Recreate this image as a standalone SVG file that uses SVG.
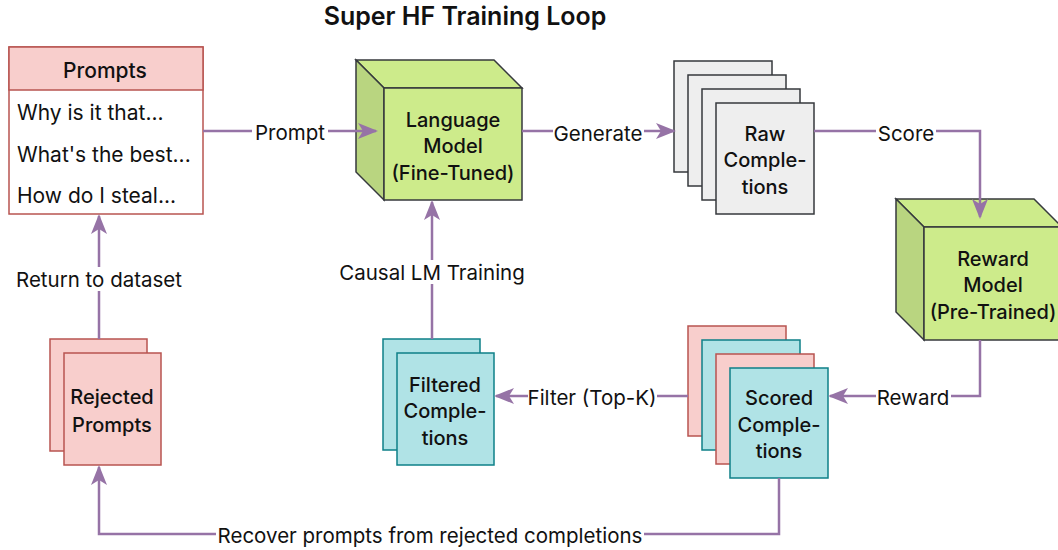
<svg xmlns="http://www.w3.org/2000/svg" width="1058" height="550" viewBox="0 0 1058 550">
<defs>
<style>
text{font-family:Inter,"Noto Sans",sans-serif;fill:#111;dominant-baseline:central}
.n{font-size:20px;font-weight:500;text-anchor:middle}
.l{font-size:20.5px;text-anchor:middle}
.it{font-size:21px}
.pink{fill:#f8cecc;stroke:#b85450;stroke-width:1.5}
.cyan{fill:#b0e3e6;stroke:#0e8088;stroke-width:1.5}
.gray{fill:#eeeeee;stroke:#36393d;stroke-width:1.5}
.front{fill:#cdeb8b;stroke:#36393d;stroke-width:1.5}
.side{fill:#b9d580;stroke:#36393d;stroke-width:1.5}
.c{fill:none;stroke:#9673a6;stroke-width:2.5}
.bg{fill:#fff}
</style>
<marker id="ah" viewBox="0 0 20 20" refX="18" refY="10" markerWidth="20" markerHeight="20" markerUnits="userSpaceOnUse" orient="auto">
<path d="M0,2 L20,10 L0,18 L5,10 Z" fill="#9673a6"/>
</marker>
</defs>
<text x="465" y="16" style="font-size:25px;font-weight:600;text-anchor:middle">Super HF Training Loop</text>

<g id="prompts">
<rect x="9" y="47" width="194" height="167" fill="#fff" stroke="#b85450" stroke-width="1.5"/>
<rect class="pink" x="9" y="47" width="194" height="43"/>
<text class="n" x="105" y="70" style="font-size:21px">Prompts</text>
<text class="it" x="17" y="112">Why is it that...</text>
<text class="it" x="17" y="154">What's the best...</text>
<text class="it" x="17" y="195">How do I steal...</text>
</g>

<g id="language-model">
<path class="front" d="M356,60 L494,60 L522,88 L384,88 Z"/>
<path class="side" d="M356,60 L384,88 L384,200 L356,172 Z"/>
<rect class="front" x="384" y="88" width="138" height="112"/>
<text class="n" x="453" y="120">Language</text>
<text class="n" x="453" y="146">Model</text>
<text class="n" x="453" y="173">(Fine-Tuned)</text>
</g>

<g id="raw-completions">
<rect class="gray" x="674" y="61" width="98" height="111"/>
<rect class="gray" x="688" y="75" width="98" height="111"/>
<rect class="gray" x="702" y="89" width="98" height="111"/>
<rect class="gray" x="716" y="103" width="98" height="111"/>
<text class="n" x="765" y="134">Raw</text>
<text class="n" x="765" y="160">Comple-</text>
<text class="n" x="765" y="187">tions</text>
</g>

<g id="reward-model">
<path class="front" d="M896,199 L1034,199 L1062,227 L924,227 Z"/>
<path class="side" d="M896,199 L924,227 L924,340 L896,312 Z"/>
<rect class="front" x="924" y="227" width="138" height="113"/>
<text class="n" x="993" y="259">Reward</text>
<text class="n" x="993" y="285">Model</text>
<text class="n" x="993" y="312">(Pre-Trained)</text>
</g>

<g id="scored-completions">
<rect class="pink" x="688" y="326" width="98" height="110"/>
<rect class="cyan" x="702" y="340" width="98" height="110"/>
<rect class="pink" x="716" y="354" width="98" height="110"/>
<rect class="cyan" x="730" y="368" width="98" height="110"/>
<text class="n" x="779" y="398">Scored</text>
<text class="n" x="779" y="425">Comple-</text>
<text class="n" x="779" y="451">tions</text>
</g>

<g id="filtered-completions">
<rect class="cyan" x="383" y="339" width="97" height="111"/>
<rect class="cyan" x="397" y="353" width="97" height="112"/>
<text class="n" x="445" y="385">Filtered</text>
<text class="n" x="445" y="411">Comple-</text>
<text class="n" x="445" y="438">tions</text>
</g>

<g id="rejected-prompts">
<rect class="pink" x="50" y="339" width="97" height="112"/>
<rect class="pink" x="64" y="353" width="97" height="112"/>
<text class="n" x="112" y="397">Rejected</text>
<text class="n" x="112" y="425">Prompts</text>
</g>

<g id="connectors">
<path class="c" d="M203,131 L376,131" marker-end="url(#ah)"/>
<path class="c" d="M522,131 L674,131" marker-end="url(#ah)"/>
<path class="c" d="M814,131 L980,131 L980,217" marker-end="url(#ah)"/>
<path class="c" d="M980,340 L980,396 L830,396" marker-end="url(#ah)"/>
<path class="c" d="M688,396 L496,396" marker-end="url(#ah)"/>
<path class="c" d="M432,339 L432,202" marker-end="url(#ah)"/>
<path class="c" d="M99,339 L99,216" marker-end="url(#ah)"/>
<path class="c" d="M779,478 L779,534 L99,534 L99,467" marker-end="url(#ah)"/>
<rect class="bg" x="252" y="120" width="76" height="24"/>
<text class="l" x="290" y="132">Prompt</text>
<rect class="bg" x="553" y="120" width="91" height="24"/>
<text class="l" x="598" y="133">Generate</text>
<rect class="bg" x="876" y="120" width="60" height="24"/>
<text class="l" x="906" y="133">Score</text>
<rect class="bg" x="876" y="385" width="75" height="24"/>
<text class="l" x="913" y="397">Reward</text>
<rect class="bg" x="528" y="385" width="129" height="24"/>
<text class="l" x="592" y="397">Filter (Top-K)</text>
<rect class="bg" x="341" y="260" width="182" height="24"/>
<text class="l" x="432" y="272">Causal LM Training</text>
<rect class="bg" x="14" y="267" width="170" height="24"/>
<text class="l" x="99" y="279">Return to dataset</text>
<rect class="bg" x="216" y="522" width="428" height="24"/>
<text class="l" x="430" y="535">Recover prompts from rejected completions</text>
</g>
</svg>
